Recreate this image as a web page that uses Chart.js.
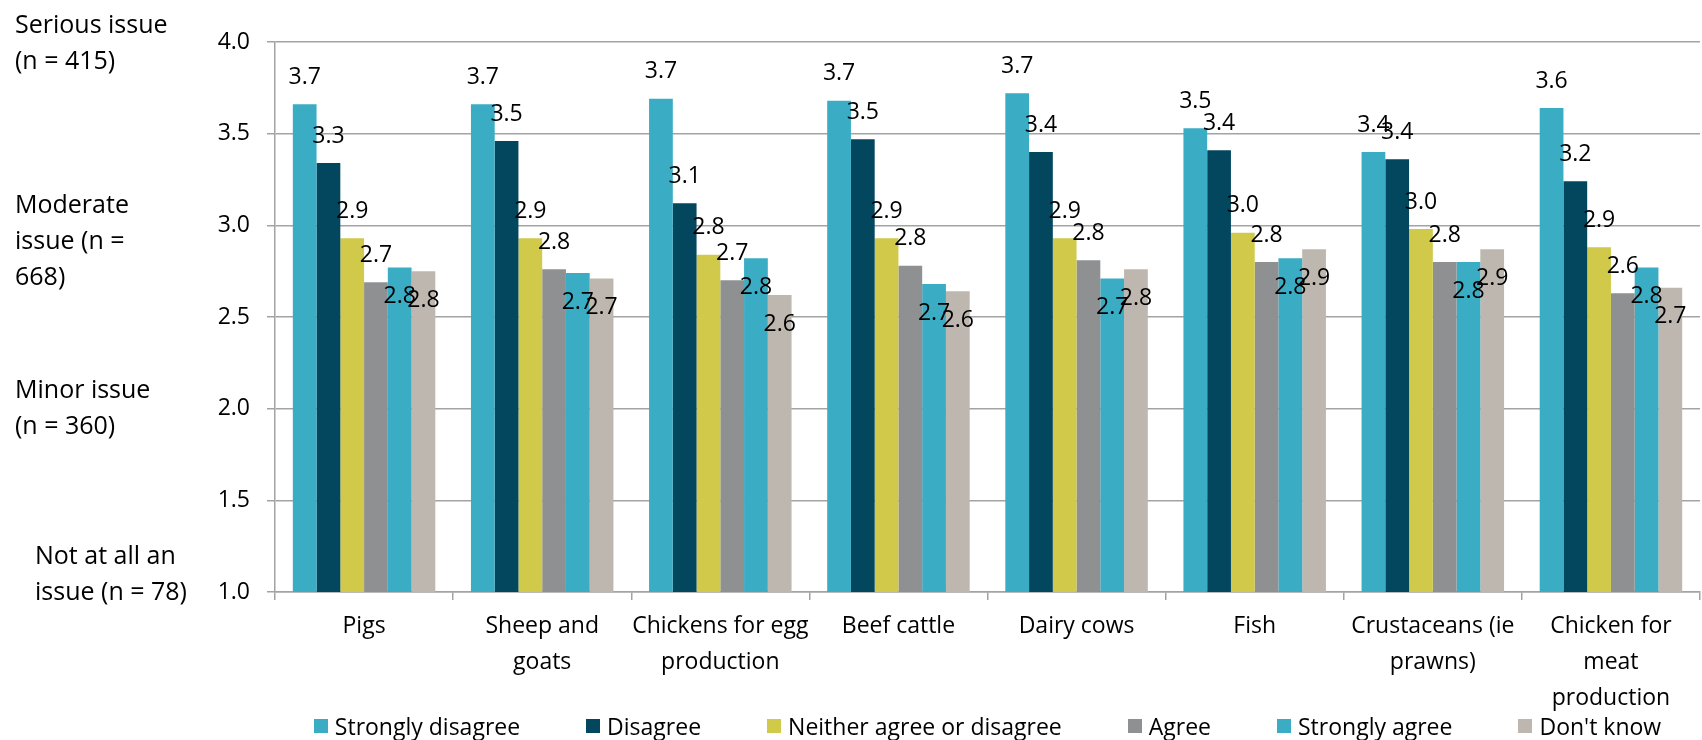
<!DOCTYPE html>
<html>
<head>
<meta charset="utf-8">
<script src="https://cdn.jsdelivr.net/npm/chart.js@4.4.1/dist/chart.umd.min.js"></script>
<style>
  body { margin: 0; background: #fff; }
  #wrap { position: relative; width: 1702px; height: 740px; font-family: "Open Sans", sans-serif; color: #000; }
  .side { position: absolute; font-size: 25px; line-height: 36px; white-space: nowrap; }
  #legend { position: absolute; left: 275px; width: 1425px; top: 711px; display: flex; justify-content: center; font-size: 23px; line-height: 30px; white-space: nowrap; }
  #legend .item { display: flex; align-items: center; margin: 0 33px; }
  #legend .box { width: 14px; height: 14px; margin-right: 7px; }
</style>
</head>
<body>
<div id="wrap">
  <canvas id="myChart" width="1702" height="740"></canvas>
  <div class="side" style="left:15px; top:5px;">Serious issue<br>(n = 415)</div>
  <div class="side" style="left:15px; top:185px;">Moderate<br>issue (n =<br>668)</div>
  <div class="side" style="left:15px; top:370px;">Minor issue<br>(n = 360)</div>
  <div class="side" style="left:35px; top:536px;">Not at all an<br>issue (n = 78)</div>
  <div id="legend"></div>
</div>
<script>
// categories (x axis)
let categories = [
  ["Pigs"],
  ["Sheep and", "goats"],
  ["Chickens for egg", "production"],
  ["Beef cattle"],
  ["Dairy cows"],
  ["Fish"],
  ["Crustaceans (ie", "prawns)"],
  ["Chicken for", "meat", "production"]
];

let seriesNames = ["Strongly disagree", "Disagree", "Neither agree or disagree", "Agree", "Strongly agree", "Don't know"];

// mean scores per series
let stronglyDisagree = [3.66, 3.66, 3.69, 3.68, 3.72, 3.53, 3.40, 3.64];
let disagree         = [3.34, 3.46, 3.12, 3.47, 3.40, 3.41, 3.36, 3.24];
let neither          = [2.93, 2.93, 2.84, 2.93, 2.93, 2.96, 2.98, 2.88];
let agree            = [2.69, 2.76, 2.70, 2.78, 2.81, 2.80, 2.80, 2.63];
let stronglyAgree    = [2.77, 2.74, 2.82, 2.68, 2.71, 2.82, 2.80, 2.77];
let dontKnow         = [2.75, 2.71, 2.62, 2.64, 2.76, 2.87, 2.87, 2.66];

let yTicks = [1.0, 1.5, 2.0, 2.5, 3.0, 3.5, 4.0];

let colors = ["#3aadc4", "#02475e", "#d0c94a", "#8f9092", "#3aadc4", "#beb7b0"];
let seriesValues = [stronglyDisagree, disagree, neither, agree, stronglyAgree, dontKnow];

const FONT = "'Open Sans', sans-serif";
const GRID = "#a3a3a3";

// data labels: first four series above the bar, last two just inside it
const labelPlugin = {
  id: "barLabels",
  afterDatasetsDraw(chart) {
    let ctx = chart.ctx;
    ctx.save();
    ctx.font = "23px " + FONT;
    ctx.fillStyle = "#000";
    ctx.textAlign = "center";
    ctx.textBaseline = "middle";
    chart.data.datasets.forEach((ds, i) => {
      let meta = chart.getDatasetMeta(i);
      meta.data.forEach((bar, j) => {
        let dy = ds.labelInside ? 29 : -27;
        ctx.fillText(ds.data[j].toFixed(1), bar.x, bar.y + dy);
      });
    });
    ctx.restore();
  }
};

let ctx = document.getElementById("myChart").getContext("2d");
new Chart(ctx, {
  type: "bar",
  data: {
    labels: categories,
    datasets: seriesNames.map((name, i) => ({
      label: name,
      data: seriesValues[i],
      backgroundColor: colors[i],
      borderWidth: 0,
      labelInside: i >= 4
    }))
  },
  options: {
    responsive: false,
    animation: false,
    devicePixelRatio: 1,
    layout: { padding: { top: 42, right: 2, left: 0, bottom: 0 } },
    datasets: { bar: { categoryPercentage: 0.8, barPercentage: 1.0 } },
    plugins: { legend: { display: false }, tooltip: { enabled: false } },
    scales: {
      x: {
        grid: { drawOnChartArea: false, drawTicks: true, tickLength: 8, color: GRID, lineWidth: 1.5, offset: true },
        border: { color: GRID, width: 1.5 },
        ticks: { color: "#000", font: { family: FONT, size: 23, lineHeight: 1.56 }, padding: 9, maxRotation: 0, autoSkip: false },
        afterFit: s => { s.height = 148; }
      },
      y: {
        min: 1,
        max: 4,
        afterBuildTicks: s => { s.ticks = yTicks.map(v => ({ value: v })); },
        grid: { color: GRID, lineWidth: 1.5, tickLength: 8 },
        border: { color: GRID, width: 1.5 },
        ticks: { color: "#000", font: { family: FONT, size: 23 }, padding: 17, callback: v => Number(v).toFixed(1) },
        afterFit: s => { s.width = 275; }
      }
    }
  },
  plugins: [labelPlugin]
});

// legend
let legend = document.getElementById("legend");
seriesNames.forEach((name, i) => {
  legend.innerHTML += `<div class="item"><span class="box" style="background:${colors[i]}"></span>${name}</div>`;
});
</script>
</body>
</html>
